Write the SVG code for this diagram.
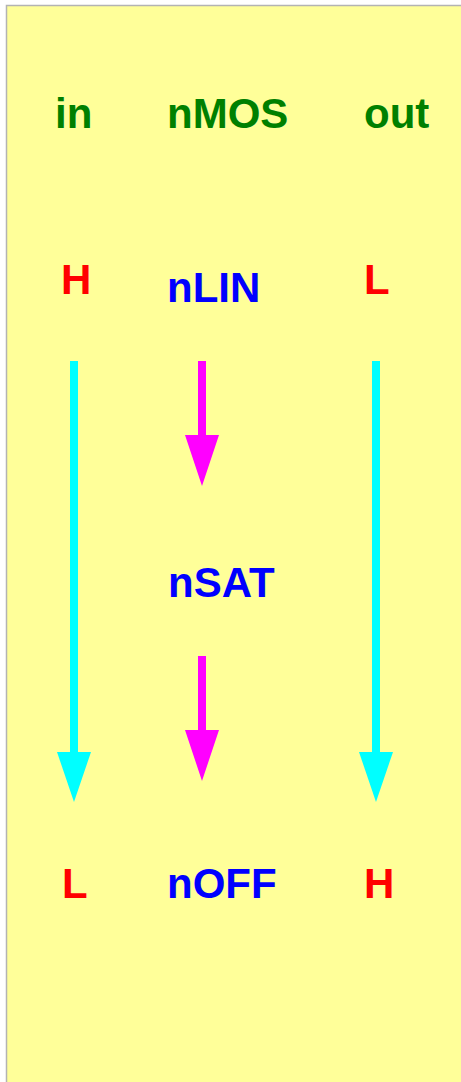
<svg xmlns="http://www.w3.org/2000/svg" width="461" height="1082" viewBox="0 0 461 1082">
<defs>
<style>
text{font-family:"Liberation Sans",Arial,sans-serif;font-weight:bold;font-size:42px}
.hdr{fill:#008000}
.lvl{fill:#ff0000}
.st{fill:#0000ff}
.cy{fill:#00ffff}
.mg{fill:#ff00ff}
</style>
</defs>
<rect x="6.5" y="5.5" width="470" height="1090" fill="#ffff99" stroke="#b3b3b3" stroke-width="1.5"/>
<g id="hdr-in"><text class="hdr" x="55" y="128">in</text></g>
<g id="hdr-nmos"><text class="hdr" x="167" y="128">nMOS</text></g>
<g id="hdr-out"><text class="hdr" x="364" y="128">out</text></g>
<g id="in-H"><text class="lvl" x="61" y="294">H</text></g>
<g id="nLIN"><text class="st" x="167" y="302">nLIN</text></g>
<g id="out-L"><text class="lvl" x="364" y="294">L</text></g>
<g id="nSAT"><text class="st" x="168" y="597">nSAT</text></g>
<g id="in-L"><text class="lvl" x="62" y="898">L</text></g>
<g id="nOFF"><text class="st" x="167" y="898">nOFF</text></g>
<g id="out-H"><text class="lvl" x="364" y="898">H</text></g>
<g id="connectors">
<rect class="cy" x="70" y="361" width="8" height="393"/>
<polygon class="cy" points="57,752 91,752 74,802"/>
<rect class="cy" x="372" y="361" width="8" height="393"/>
<polygon class="cy" points="359,752 393,752 376,802"/>
<rect class="mg" x="198" y="361" width="8" height="76"/>
<polygon class="mg" points="185,435 219,435 202,486"/>
<rect class="mg" x="198" y="656" width="8" height="76"/>
<polygon class="mg" points="185,730 219,730 202,781"/>
</g>
</svg>
